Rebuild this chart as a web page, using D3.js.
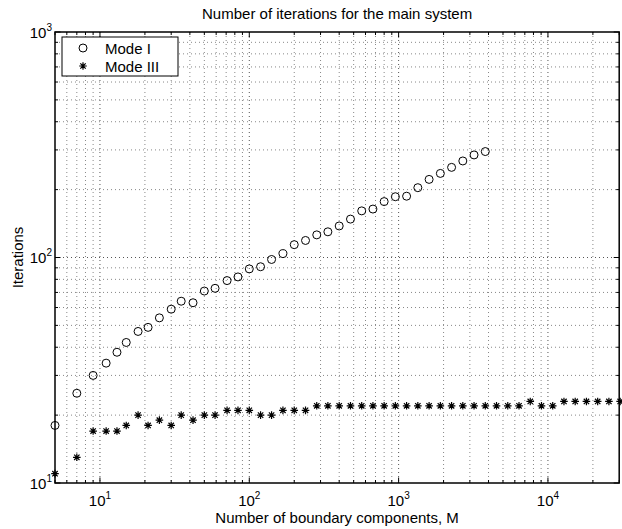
<!DOCTYPE html>
<html>
<head>
<meta charset="utf-8">
<script src="https://cdn.jsdelivr.net/npm/d3@7"></script>
<style>
  body { margin: 0; background: #fff; }
  text { font-family: "Liberation Sans", Arial, Helvetica, sans-serif; }
</style>
</head>
<body>
<script>
// number of boundary components M (shared by both series)
const mValues = [5, 7, 9, 11, 13, 15, 18, 21, 25, 30, 35, 42, 50, 59, 71, 84, 100, 119, 141, 168,
    200, 238, 283, 336, 400, 476, 566, 673, 800, 951, 1131, 1345, 1600, 1903, 2263, 2691, 3200, 3805,
    4525, 5382, 6400, 7611, 9051, 10763, 12800, 15222, 18102, 21527, 25600, 30444];

// Mode I only goes up to M = 3805
const modeI = [18, 25, 30, 34, 38, 42, 47, 49, 54, 59, 64, 63, 71, 73, 79, 82, 89, 91, 98, 104,
    114, 119, 126, 130, 138, 148, 161, 164, 177, 186, 187, 204, 222, 236, 251, 268, 285, 295];

const modeIII = [11, 13, 17, 17, 17, 18, 20, 18, 19, 18, 20, 19, 20, 20, 21, 21, 21, 20, 20, 21,
    21, 21, 22, 22, 22, 22, 22, 22, 22, 22, 22, 22, 22, 22, 22, 22, 22, 22,
    22, 22, 22, 23, 22, 22, 23, 23, 23, 23, 23, 23];

const seriesNames = ["Mode I", "Mode III"];
const xDomain = [5, 30000];
const yDomain = [10, 1000];

function main(){
    const canvasWidth = 622;
    const canvasHeight = 529;
    const left = 55, right = 619.2, top = 32, bottom = 483;

    const svg = d3.select("body").append("svg")
        .attr("width", canvasWidth)
        .attr("height", canvasHeight);

    const xScale = d3.scaleLog().domain(xDomain).range([left, right]);
    const yScale = d3.scaleLog().domain(yDomain).range([bottom, top]);

    const isMajor = v => Math.abs(Math.log10(v) - Math.round(Math.log10(v))) < 1e-9;
    const xTicks = xScale.ticks().filter(v => v >= xDomain[0] && v <= xDomain[1]);
    const yTicks = yScale.ticks().filter(v => v >= yDomain[0] && v <= yDomain[1]);

    // dotted grid, major and minor
    const grid = svg.append("g");
    grid.selectAll(".vgrid")
        .data(xTicks.filter(v => v > xDomain[0] && v < xDomain[1]))
        .enter().append("line")
        .attr("x1", d => xScale(d)).attr("x2", d => xScale(d))
        .attr("y1", top).attr("y2", bottom)
        .attr("stroke", d => isMajor(d) ? "#555" : "#888")
        .attr("stroke-width", 1)
        .attr("stroke-dasharray", "1,3");
    grid.selectAll(".hgrid")
        .data(yTicks.filter(v => v > yDomain[0] && v < yDomain[1]))
        .enter().append("line")
        .attr("x1", left).attr("x2", right)
        .attr("y1", d => yScale(d)).attr("y2", d => yScale(d))
        .attr("stroke", d => isMajor(d) ? "#555" : "#888")
        .attr("stroke-width", 1)
        .attr("stroke-dasharray", "1,3");

    // inward tick marks on all four sides
    const ticks = svg.append("g").attr("stroke", "#000").attr("stroke-width", 1);
    xTicks.forEach(v => {
        const len = isMajor(v) ? 5.5 : 3;
        ticks.append("line").attr("x1", xScale(v)).attr("x2", xScale(v)).attr("y1", bottom).attr("y2", bottom - len);
        ticks.append("line").attr("x1", xScale(v)).attr("x2", xScale(v)).attr("y1", top).attr("y2", top + len);
    });
    yTicks.forEach(v => {
        const len = isMajor(v) ? 5.5 : 3;
        ticks.append("line").attr("y1", yScale(v)).attr("y2", yScale(v)).attr("x1", left).attr("x2", left + len);
        ticks.append("line").attr("y1", yScale(v)).attr("y2", yScale(v)).attr("x1", right).attr("x2", right - len);
    });

    // axes box
    svg.append("rect")
        .attr("x", left).attr("y", top)
        .attr("width", right - left).attr("height", bottom - top)
        .attr("fill", "none").attr("stroke", "#000").attr("stroke-width", 1.5);

    // tick labels 10^k
    xTicks.filter(isMajor).forEach(v => {
        const t = svg.append("text")
            .attr("x", xScale(v)).attr("y", 506)
            .attr("text-anchor", "middle")
            .attr("font-size", "15px");
        t.append("tspan").text("10");
        t.append("tspan").attr("dy", -7).attr("font-size", "10px").text(Math.round(Math.log10(v)));
    });
    yTicks.filter(isMajor).forEach(v => {
        const t = svg.append("text")
            .attr("x", 52).attr("y", yScale(v) + 5.5)
            .attr("text-anchor", "end")
            .attr("font-size", "15px");
        t.append("tspan").text("10");
        t.append("tspan").attr("dy", -7).attr("font-size", "10px").text(Math.round(Math.log10(v)));
    });

    // title and axis labels
    svg.append("text")
        .attr("x", (left + right) / 2).attr("y", 19)
        .attr("text-anchor", "middle").attr("font-size", "15px")
        .text("Number of iterations for the main system");
    svg.append("text")
        .attr("x", (left + right) / 2).attr("y", 523)
        .attr("text-anchor", "middle").attr("font-size", "15px")
        .text("Number of boundary components, M");
    svg.append("text")
        .attr("transform", "translate(23," + (top + bottom) / 2 + ") rotate(-90)")
        .attr("text-anchor", "middle").attr("font-size", "15px")
        .text("Iterations");

    // asterisk marker: plus + cross
    const star = r => {
        const d = r * Math.SQRT1_2;
        return `M${-r},0L${r},0M0,${-r}L0,${r}M${-d},${-d}L${d},${d}M${-d},${d}L${d},${-d}`;
    };

    const pointsI = modeI.map((v, i) => ({m: mValues[i], v: v}));
    const pointsIII = modeIII.map((v, i) => ({m: mValues[i], v: v}));

    svg.append("g").selectAll("circle")
        .data(pointsI)
        .enter().append("circle")
        .attr("cx", d => xScale(d.m))
        .attr("cy", d => yScale(d.v))
        .attr("r", 4)
        .attr("fill", "none")
        .attr("stroke", "#000")
        .attr("stroke-width", 1);

    svg.append("g").selectAll("path")
        .data(pointsIII)
        .enter().append("path")
        .attr("transform", d => "translate(" + xScale(d.m) + "," + yScale(d.v) + ")")
        .attr("d", star(3.8))
        .attr("stroke", "#000")
        .attr("stroke-width", 1.2)
        .attr("fill", "none");

    // legend
    const legend = svg.append("g").attr("transform", "translate(62,37)");
    legend.append("rect")
        .attr("width", 116).attr("height", 39)
        .attr("fill", "#fff").attr("stroke", "#000").attr("stroke-width", 1);
    legend.append("circle")
        .attr("cx", 21).attr("cy", 11).attr("r", 4)
        .attr("fill", "none").attr("stroke", "#000");
    legend.append("path")
        .attr("transform", "translate(21,29)")
        .attr("d", star(3.8))
        .attr("stroke", "#000").attr("stroke-width", 1.2);
    legend.selectAll("text")
        .data(seriesNames)
        .enter().append("text")
        .attr("x", 43)
        .attr("y", (d, i) => 16.5 + i * 18)
        .attr("font-size", "15px")
        .text(d => d);
}
main();
</script>
</body>
</html>
